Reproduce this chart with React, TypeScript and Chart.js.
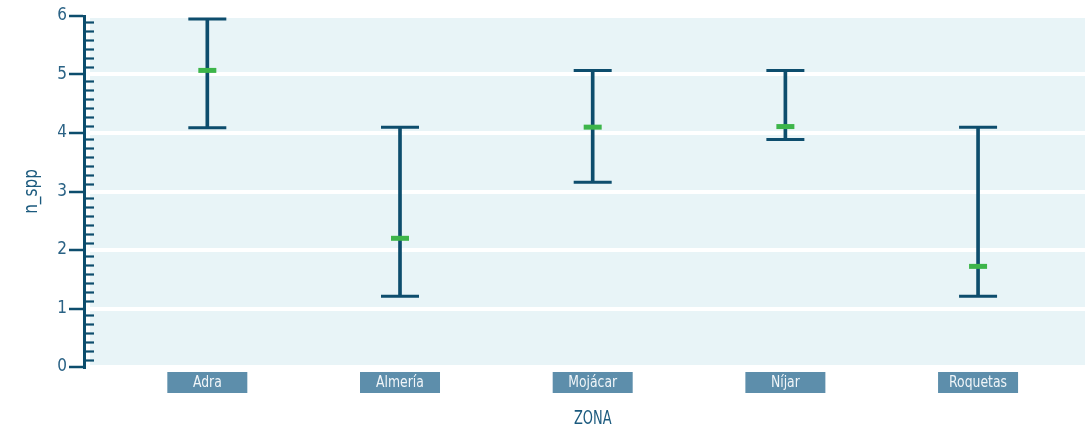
import React, { useEffect, useRef } from "react";
import { Chart, registerables } from "chart.js";

Chart.register(...registerables);

// ---- data ----
const categories = ["Adra", "Almería", "Mojácar", "Níjar", "Roquetas"];
const meanValues = [5.07, 2.2, 4.1, 4.11, 1.72];
const lowValues = [4.09, 1.21, 3.16, 3.89, 1.21];
const highValues = [5.95, 4.1, 5.07, 5.07, 4.1];
const yMin = 0;
const yMax = 6;
const minorTickFractions = [0.12, 0.274, 0.428, 0.582, 0.736, 0.89];
const xTitle = "ZONA";
const yTitle = "n_spp";

// ---- style ----
const DARK = "#0d4d6d";
const GREEN = "#3db54a";
const BG = "#e8f4f7";
const BOX = "#5d8eab";
const TICK_TEXT = "#2a6285";
const TITLE = "#1b5a7e";
const FONT = "'DejaVu Sans Condensed', 'Liberation Sans Narrow', 'Roboto', sans-serif";

function narrowText(ctx: CanvasRenderingContext2D, text: string, x: number, y: number, sx: number) {
  ctx.save();
  ctx.translate(x, y);
  ctx.scale(sx, 1);
  ctx.fillText(text, 0, 0);
  ctx.restore();
}

const decorPlugin = {
  id: "decor",
  beforeDraw(chart: any) {
    const { ctx, chartArea } = chart;
    ctx.save();
    ctx.fillStyle = BG;
    ctx.fillRect(chartArea.left + 6, chartArea.top, chartArea.right - chartArea.left - 6, chartArea.bottom - chartArea.top);
    ctx.restore();
  },
  afterDraw(chart: any) {
    const { ctx, chartArea } = chart;
    const y = chart.scales.y;
    const x = chart.scales.x;
    ctx.save();
    // minor ticks
    ctx.strokeStyle = DARK;
    ctx.lineWidth = 2.2;
    for (let v = yMin; v < yMax; v++) {
      for (const f of minorTickFractions) {
        const py = Math.round(y.getPixelForValue(v + f)) + 0.5;
        ctx.beginPath();
        ctx.moveTo(chartArea.left, py);
        ctx.lineTo(chartArea.left + 10, py);
        ctx.stroke();
      }
    }
    // category label boxes
    ctx.textAlign = "center";
    ctx.textBaseline = "middle";
    ctx.font = `15px ${FONT}`;
    categories.forEach((c, i) => {
      const px = x.getPixelForValue(i);
      ctx.fillStyle = BOX;
      ctx.fillRect(px - 40, chartArea.bottom + 5, 80, 21);
      ctx.fillStyle = "#f0f5f8";
      narrowText(ctx, c, px, chartArea.bottom + 16, 0.92);
    });
    // titles
    ctx.fillStyle = TITLE;
    ctx.font = `20px ${FONT}`;
    narrowText(ctx, xTitle, x.getPixelForValue((categories.length - 1) / 2), chartArea.bottom + 52, 0.72);
    ctx.translate(32, (chartArea.top + chartArea.bottom) / 2);
    ctx.rotate(-Math.PI / 2);
    narrowText(ctx, yTitle, 0, 0, 0.85);
    ctx.restore();
  },
};

export default function App() {
  const ref = useRef<HTMLCanvasElement | null>(null);
  useEffect(() => {
    document.body.style.margin = "0";
    if (!ref.current) return;
    const chart = new Chart(ref.current, {
      type: "bar",
      data: {
        datasets: [
          {
            type: "scatter",
            label: "mean",
            data: categories.map((_, i) => ({ x: i, y: meanValues[i] })),
            pointStyle: "line",
            pointRadius: 9,
            pointHoverRadius: 9,
            borderWidth: 5,
            borderColor: GREEN,
            backgroundColor: GREEN,
            order: 0,
            clip: false,
          } as any,
          {
            type: "scatter",
            label: "caps",
            data: [
              ...categories.map((_, i) => ({ x: i, y: lowValues[i] })),
              ...categories.map((_, i) => ({ x: i, y: highValues[i] })),
            ],
            pointStyle: "line",
            pointRadius: 19,
            pointHoverRadius: 19,
            borderWidth: 3,
            borderColor: DARK,
            backgroundColor: DARK,
            order: 1,
            clip: false,
          } as any,
          {
            type: "bar",
            label: "range",
            data: categories.map((_, i) => ({ x: i, y: [lowValues[i], highValues[i]] })),
            backgroundColor: DARK,
            borderWidth: 0,
            barThickness: 3,
            order: 2,
          } as any,
        ],
      },
      options: {
        responsive: false,
        animation: false,
        events: [],
        layout: { autoPadding: false, padding: { top: 16, left: 0, right: 0, bottom: 0 } },
        plugins: { legend: { display: false }, tooltip: { enabled: false } },
        scales: {
          x: {
            type: "linear",
            min: -0.64,
            max: 4.555,
            offset: false,
            grid: { display: false },
            border: { display: false },
            ticks: { display: false },
            afterFit: (s: any) => {
              s.height = 61;
              s.paddingLeft = 0;
              s.paddingRight = 0;
            },
          },
          y: {
            type: "linear",
            min: yMin,
            max: yMax,
            ticks: {
              stepSize: 1,
              color: TICK_TEXT,
              padding: 2,
              font: { family: FONT, size: 17 },
            },
            grid: {
              color: "#ffffff",
              lineWidth: 4,
              tickColor: DARK,
              tickWidth: 2.5,
              tickLength: 15,
            },
            border: { display: true, color: DARK, width: 3 },
            afterFit: (s: any) => {
              s.width = 84;
              s.paddingTop = 0;
              s.paddingBottom = 0;
            },
          },
        } as any,
      },
      plugins: [decorPlugin],
    } as any);
    return () => chart.destroy();
  }, []);
  return (
    <div style={{ width: 1085, height: 428 }}>
      <canvas ref={ref} width={1085} height={428} style={{ display: "block" }} />
    </div>
  );
}
